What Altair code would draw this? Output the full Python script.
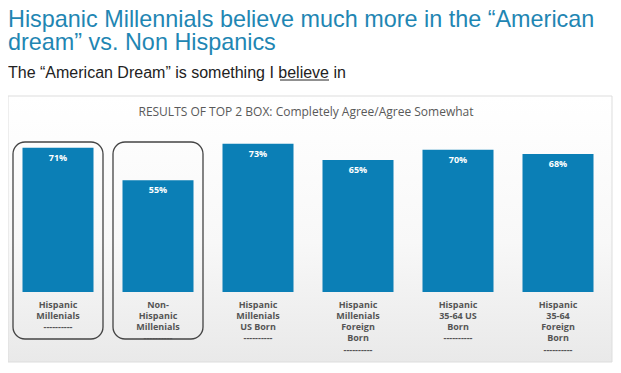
import altair as alt
import pandas as pd

categories = [
    "Hispanic|Millenials|----------",
    "Non-|Hispanic|Millenials|----------",
    "Hispanic|Millenials|US Born|----------",
    "Hispanic|Millenials|Foreign|Born|----------",
    "Hispanic|35-64 US|Born|----------",
    "Hispanic|35-64|Foreign|Born|----------",
]
values = [71, 55, 73, 65, 70, 68]
value_labels = ["71%", "55%", "73%", "65%", "70%", "68%"]
highlighted = [True, True, False, False, False, False]

df = pd.DataFrame({"cat": categories, "value": values, "label": value_labels, "hl": highlighted})
one = pd.DataFrame({"k": [0]})

BAR = "#0b7fb6"
TITLE = "#1f86b3"
LABEL_FONT = "Open Sans"

xenc = alt.X(
    "cat:N", sort=categories,
    scale=alt.Scale(paddingInner=0.29, paddingOuter=0.145),
    axis=alt.Axis(
        title=None, labelAngle=0, ticks=False, domain=False, zindex=1,
        labelExpr="split(datum.label, '|')", labelPadding=8,
        labelFont=LABEL_FONT, labelFontSize=9, labelFontWeight="bold",
        labelColor="#555555", labelLineHeight=11.3, labelOverlap=False,
    ),
)
yenc = alt.Y("value:Q", scale=alt.Scale(domain=[0, 96.5], nice=False), axis=None)

grad = alt.LinearGradient(
    gradient="linear",
    stops=[
        alt.GradientStop(offset=0, color="#ffffff"),
        alt.GradientStop(offset=0.55, color="#f8f8f8"),
        alt.GradientStop(offset=1, color="#e9e9e9"),
    ],
    x1=0, x2=0, y1=0, y2=1,
)

panel = alt.Chart(one).mark_rect(fill=grad, stroke="#dddddd", strokeWidth=1).encode(
    x=alt.value(0), x2=alt.value(604), y=alt.value(0), y2=alt.value(266)
)

inner_title = alt.Chart(one).mark_text(
    text="RESULTS OF TOP 2 BOX: Completely Agree/Agree Somewhat",
    font=LABEL_FONT, fontSize=12, color="#595959", align="center", baseline="middle",
).encode(x=alt.value(298), y=alt.value(16))

bars = alt.Chart(df).mark_bar(color=BAR).encode(x=xenc, y=yenc)

labels = alt.Chart(df).mark_text(
    font=LABEL_FONT, fontSize=9, fontWeight="bold", color="white", baseline="middle", dy=10
).encode(x=alt.X("cat:N", sort=categories), y=yenc, text="label:N")

boxes = alt.Chart(df).transform_filter("datum.hl").mark_bar(
    size=90, cornerRadius=12, fill="transparent", stroke="#444444", strokeWidth=1.3
).encode(x=alt.X("cat:N", sort=categories), y=alt.value(46), y2=alt.value(243))

underline = alt.Chart(one).mark_rule(color="#222222", strokeWidth=1).encode(
    x=alt.value(272), x2=alt.value(321), y=alt.value(-16)
)

chart = alt.layer(panel, inner_title, bars, labels, boxes, underline).properties(
    width=600, height=196,
    padding={"left": 0, "top": 88, "right": 5, "bottom": 73},
    autosize=alt.AutoSizeParams(type="none"),
    title=alt.TitleParams(
        text=["Hispanic Millennials believe much more in the “American", "dream” vs. Non Hispanics"],
        subtitle="The “American Dream” is something I believe in",
        anchor="start", frame="group", font="Liberation Sans", fontSize=23.4,
        fontWeight="normal", color=TITLE, lineHeight=23,
        subtitleFont="Liberation Sans", subtitleFontSize=16, subtitleColor="#222222",
        subtitlePadding=9, offset=-2,
    ),
).configure_view(stroke=None).configure(background="white")

chart.save("out.html", embed_options={"renderer": "svg", "actions": False})
